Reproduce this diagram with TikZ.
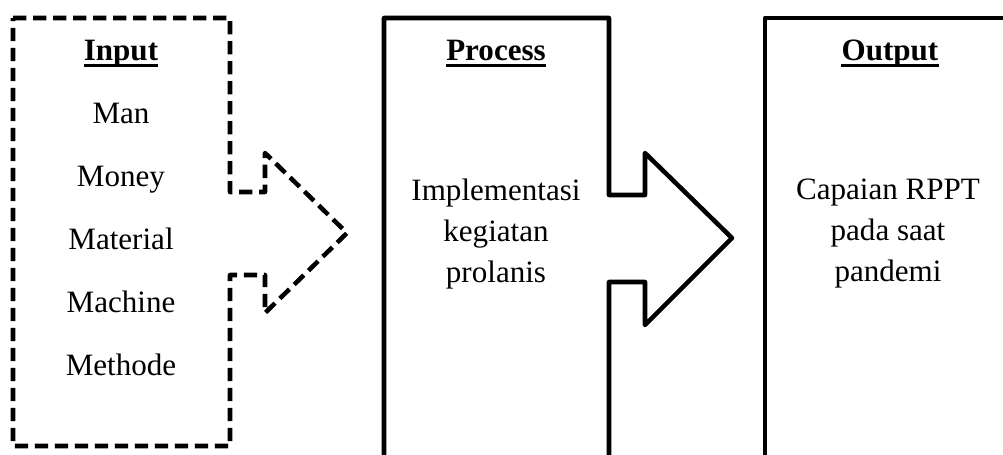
\documentclass[tikz,border=0pt]{standalone}
\usepackage{fontspec}
\setmainfont{Liberation Serif}
\begin{document}
\begin{tikzpicture}[x=0.75pt,y=-0.75pt,
  frame/.style={line width=3.4pt,line join=round},
  dashframe/.style={frame,dash pattern=on 10pt off 5pt},
  lbl/.style={inner sep=0pt,anchor=base,font=\fontsize{23.3}{31}\selectfont},
  ttl/.style={lbl,font=\fontsize{23.3}{31}\selectfont\bfseries},
  ul/.style={line width=2.2pt}]
\useasboundingbox (0,0) rectangle (1003,454);
\begin{scope}
\clip (0,0) rectangle (1003,454);
% Input block with its arrow
\draw[dashframe] (13,18) -- (230,18) -- (230,192) -- (265,192) -- (265,153)
  -- (347,233) -- (265,313) -- (265,275) -- (230,275) -- (230,446)
  -- (13,446) -- cycle;
% Process block with its arrow
\draw[frame] (384,480) -- (384,18) -- (609,18) -- (609,195) -- (645,195)
  -- (645,153) -- (732,238) -- (645,325) -- (645,282) -- (609,282) -- (609,480);
% Output block
\draw[frame] (765,480) -- (765,18) -- (1030,18);
\end{scope}
% Titles
\node[ttl] (tin) at (121,60) {Input};
\node[ttl] (tpr) at (496,60) {Process};
\node[ttl] (tout) at (890,60) {Output};
\foreach \t in {tin,tpr,tout}
  \draw[ul] ([yshift=-4.2pt]\t.base west) -- ([yshift=-4.2pt]\t.base east);
% Input items
\node[lbl] (man) at (121,123) {Man};
\node[lbl] (money) at (121,186) {Money};
\node[lbl] (material) at (121,249) {Material};
\node[lbl] (machine) at (121,312) {Machine};
\node[lbl] (methode) at (121,375) {Methode};
% Process description
\node[lbl] (proc1) at (496,200) {Implementasi};
\node[lbl] (proc2) at (496,241) {kegiatan};
\node[lbl] (proc3) at (496,282) {prolanis};
% Output description
\node[lbl] (out1) at (888,199) {Capaian RPPT};
\node[lbl] (out2) at (888,240) {pada saat};
\node[lbl] (out3) at (888,281) {pandemi};
\end{tikzpicture}
\end{document}
